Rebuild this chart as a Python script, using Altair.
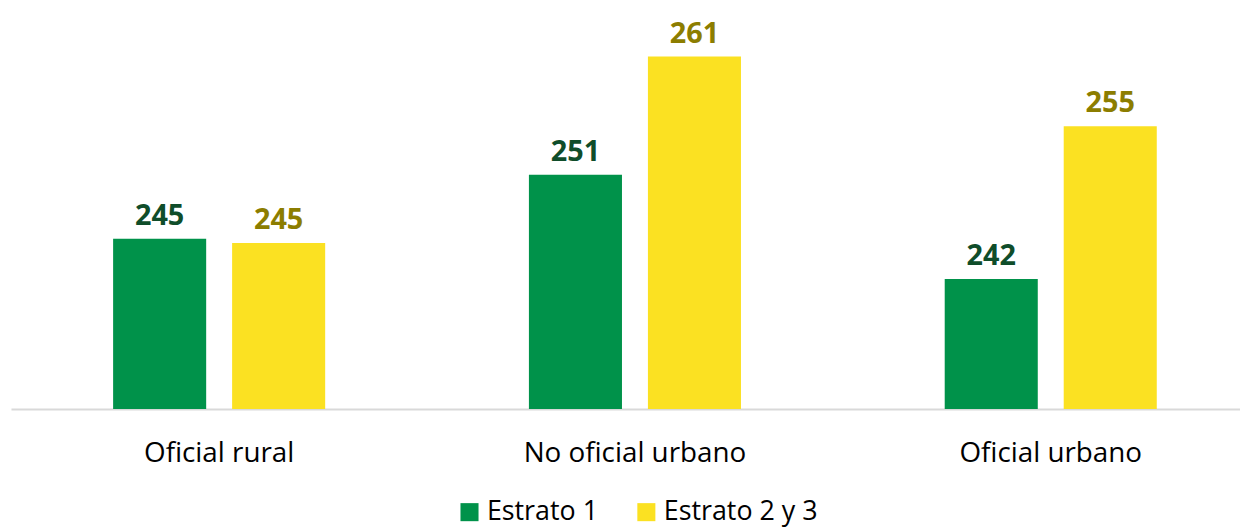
import altair as alt
import pandas as pd

categories = ["Oficial rural", "No oficial urbano", "Oficial urbano"]
series = ["Estrato 1", "Estrato 2 y 3"]
estrato1 = [245.45, 250.9, 242.0]
estrato23 = [245.08, 261.0, 255.05]

rows = []
for c, a, b in zip(categories, estrato1, estrato23):
    rows.append({"cat": c, "serie": series[0], "val": a})
    rows.append({"cat": c, "serie": series[1], "val": b})
df = pd.DataFrame(rows)

ymin, ymax = 230.9, 265.0
colors = ["#00924A", "#FBE122"]
label_colors = ["#0F4D2A", "#8C7D00"]

x = alt.X("cat:N", sort=categories, title=None,
          scale=alt.Scale(paddingInner=0.49, paddingOuter=0.2229, align=0.551),
          axis=alt.Axis(labelAngle=0, ticks=False, domainColor="#D9D9D9", domainWidth=2,
                        labelFont="Open Sans", labelFontSize=28, labelColor="#000000",
                        labelPadding=31, labelLimit=500))
xo = alt.XOffset("serie:N", sort=series, scale=alt.Scale(paddingInner=0.218, paddingOuter=0))
y = alt.Y("val:Q", scale=alt.Scale(domain=[ymin, ymax], zero=False, nice=False), axis=None)

bars = alt.Chart(df).mark_bar().encode(
    x=x, xOffset=xo, y=y, y2=alt.datum(ymin),
    color=alt.Color("serie:N", sort=series, scale=alt.Scale(domain=series, range=colors),
                    legend=alt.Legend(title=None, orient="none", direction="horizontal",
                                      legendX=448, legendY=492,
                                      symbolType="square", symbolSize=330,
                                      symbolStrokeWidth=0, symbolOpacity=1,
                                      labelFont="Open Sans", labelFontSize=27,
                                      labelColor="#000000", columnPadding=35,
                                      labelOffset=4, labelLimit=400)),
)

labels = alt.Chart(df).mark_text(font="Open Sans", fontWeight="bold", fontSize=29,
                                 baseline="alphabetic", dy=-14).encode(
    x=x, xOffset=xo, y=y,
    text=alt.Text("val:Q", format=".0f"),
    color=alt.Color("serie:N", sort=series,
                    scale=alt.Scale(domain=series, range=label_colors), legend=None),
)

chart = alt.layer(bars, labels).resolve_scale(color="independent").properties(
    width=1237, height=402,
    padding={"left": 3, "top": 0, "right": 0, "bottom": 0},
).configure_view(stroke=None)

chart.save("out.html", embed_options={"renderer": "svg", "actions": False})
